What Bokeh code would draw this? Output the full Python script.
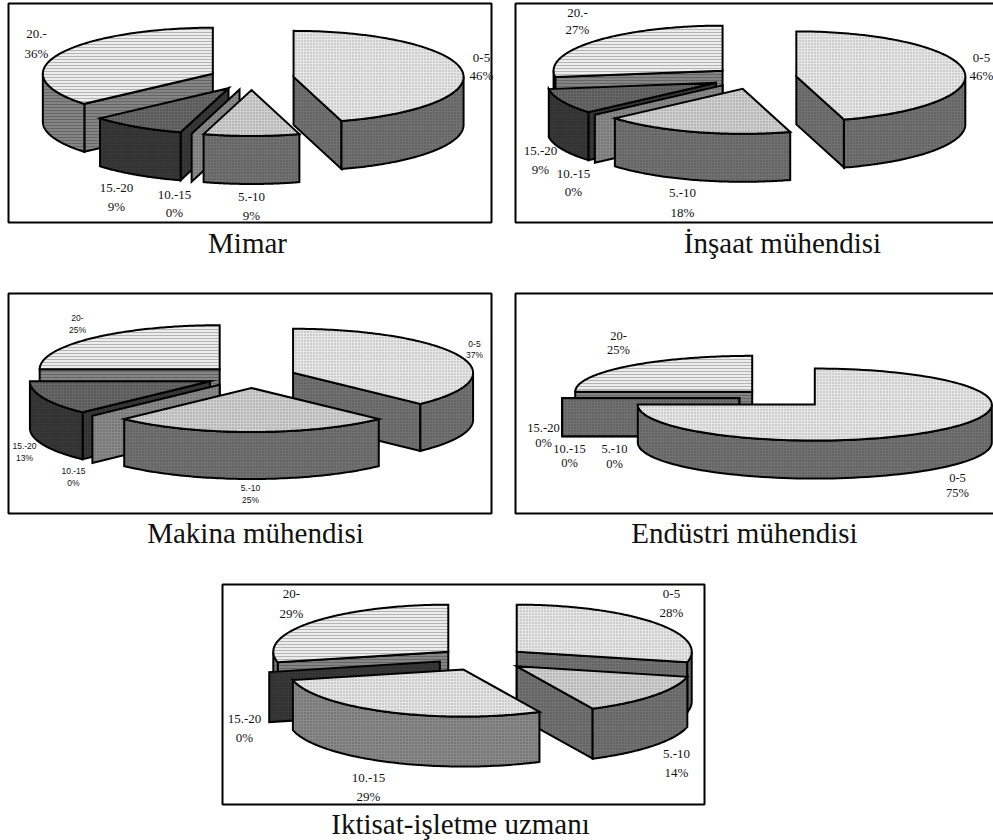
import numpy as np
from bokeh.plotting import figure
from bokeh.models import ColumnDataSource
from bokeh.core.properties import value
from bokeh.embed import file_html
from bokeh.resources import INLINE

# ---------- data ----------
categories = ["0-5", "5.-10", "10.-15", "15.-20", "20.-"]
categories_sans = ["0-5", "5.-10", "10.-15", "15.-20", "20-"]
titles = ["Mimar", "İnşaat mühendisi", "Makina mühendisi", "Endüstri mühendisi", "Iktisat-işletme uzmanı"]
# slice sizes (head counts)
mimar = [5, 1, 0, 1, 4]
insaat = [5, 2, 0, 1, 3]
makina = [3, 2, 0, 1, 2]
endustri = [3, 0, 0, 0, 1]
iktisat = [2, 1, 2, 0, 2]
series = [mimar, insaat, makina, endustri, iktisat]
# percentages as printed on the chart
mimar_pct = [46, 9, 0, 9, 36]
insaat_pct = [46, 18, 0, 9, 27]
makina_pct = [37, 25, 0, 13, 25]
endustri_pct = [75, 0, 0, 0, 25]
iktisat_pct = [28, 14, 29, 0, 29]
printed = [mimar_pct, insaat_pct, makina_pct, endustri_pct, iktisat_pct]

# ---------- layout (page pixels) ----------
# frame x0, y0, x1, y1
frames = [(8, 3, 491, 222), (515, 3, 1000, 222), (8, 293, 491, 513), (515, 293, 1000, 513), (222, 584, 704, 804)]
# centre x, centre y, rx, ry, depth
pies = [(251, 78, 170, 46, 48), (754, 77.5, 169, 45, 48), (251, 376.5, 180, 44, 47),
        (783, 397.7, 177, 36, 38), (482, 658.5, 175, 47, 50)]
EXPLODE = 0.25
title_pos = [(247, 242), (782, 242), (255, 532), (744, 532), (460, 823)]
# label line centres per slice: x, y of first line, y of second line
label_pos = [
    [(481, 57, 75), (251, 196, 215), (174, 194, 212), (116, 187, 206), (36, 33, 53)],
    [(981, 57, 75), (682, 192, 212), (573, 173, 191), (540, 150, 169), (577, 12, 29)],
    [(474, 343, 354), (250, 487, 499), (73, 470, 482), (24, 445, 457), (77, 317, 329)],
    [(957, 477, 492), (614, 448, 463), (569, 448, 462), (543, 427, 442), (618, 335, 349)],
    [(671, 593, 612), (676, 753, 772), (368, 777, 796), (244, 718, 737), (291, 593, 613)],
]
label_font = ["Liberation Serif", "Liberation Serif", "Liberation Sans", "Liberation Serif", "Liberation Serif"]
label_size = ["13px", "13px", "8.5px", "12.5px", "13px"]

# ---------- styles per slice ----------
top_fill = ["#e6e6e6", "#d0d0d0", "#e6e6e6", "#686868", "#ececec"]
top_hatch = ["dot", "dot", "dot", "dot", "horizontal_line"]
top_hcol = ["#a8a8a8", "#909090", "#a0a0a0", "#404040", "#b4b4b4"]
side_fill = ["#727272", "#727272", "#8a8a8a", "#383838", "#848484"]
side_hatch = ["dot", "dot", "dot", "dot", "horizontal_line"]
side_hcol = ["#505050", "#505050", "#585858", "#242424", "#666666"]

p = figure(width=993, height=840, x_range=(0, 993), y_range=(840, 0),
           output_backend="svg", toolbar_location=None, min_border=0,
           outline_line_color=None, tools="")
p.axis.visible = False
p.grid.visible = False

p.quad(left=[f[0] for f in frames], right=[f[2] for f in frames],
       top=[f[1] for f in frames], bottom=[f[3] for f in frames],
       fill_color="white", line_color="black", line_width=2)


def ell(cx, cy, rx, ry, a):
    r = np.radians(a)
    return cx + rx * np.sin(r), cy - ry * np.cos(r)


polys = dict(xs=[], ys=[], fill=[], hatch=[], hcol=[])


def add(xs, ys, i, top):
    polys["xs"].append(list(map(float, xs)))
    polys["ys"].append(list(map(float, ys)))
    polys["fill"].append(top_fill[i] if top else side_fill[i])
    polys["hatch"].append(top_hatch[i] if top else side_hatch[i])
    polys["hcol"].append(top_hcol[i] if top else side_hcol[i])


for vals, (cx, cy, rx, ry, d) in zip(series, pies):
    edges = np.concatenate([[0], np.cumsum(vals)]) * 360.0 / sum(vals)
    items = []
    for i, v in enumerate(vals):
        a0, a1 = edges[i], edges[i + 1]
        ax, ay = ell(cx, cy, rx * EXPLODE, ry * EXPLODE, (a0 + a1) / 2)
        items.append((round(ay, 3), -i, i, a0, a1, ax, ay))
    for _, _, i, a0, a1, ax, ay in sorted(items):
        sx0, sy0 = ell(ax, ay, rx, ry, a0)
        sx1, sy1 = ell(ax, ay, rx, ry, a1)
        if a0 == a1:
            add([ax, sx0, sx0, ax], [ay, sy0, sy0 + d, ay + d], i, False)
            continue
        if np.sin(np.radians(a1)) > 1e-6:
            add([ax, sx1, sx1, ax], [ay, sy1, sy1 + d, ay + d], i, False)
        if np.sin(np.radians(a0)) < -1e-6:
            add([ax, sx0, sx0, ax], [ay, sy0, sy0 + d, ay + d], i, False)
        lo, hi = max(a0, 90), min(a1, 270)
        if hi > lo:
            t = np.linspace(lo, hi, 80)
            rxs, rys = ell(ax, ay, rx, ry, t)
            add(np.r_[rxs, rxs[::-1]], np.r_[rys, rys[::-1] + d], i, False)
        t = np.linspace(a0, a1, 120)
        txs, tys = ell(ax, ay, rx, ry, t)
        add(np.r_[ax, txs], np.r_[ay, tys], i, True)

p.patches("xs", "ys", source=ColumnDataSource(polys), fill_color="fill",
          line_color="black", line_width=2, line_join="miter",
          hatch_pattern="hatch", hatch_color="hcol", hatch_scale=3, hatch_weight=1)

# slice labels
for k, vals in enumerate(printed):
    names = categories_sans if k in (2, 3, 4) else categories
    tx, ty, tt = [], [], []
    for i, v in enumerate(vals):
        x, y1, y2 = label_pos[k][i]
        tx += [x, x]
        ty += [y1, y2]
        tt += [names[i], f"{v}%"]
    p.text(tx, ty, text=tt, text_font=value(label_font[k]), text_font_size=value(label_size[k]),
           text_align="center", text_baseline="middle", text_color="#111111")

p.text([t[0] for t in title_pos], [t[1] for t in title_pos], text=titles,
       text_font=value("Liberation Serif"), text_font_size=value("29px"),
       text_align="center", text_baseline="middle", text_color="#111111")

open("out.html", "w").write(file_html(p, INLINE))
